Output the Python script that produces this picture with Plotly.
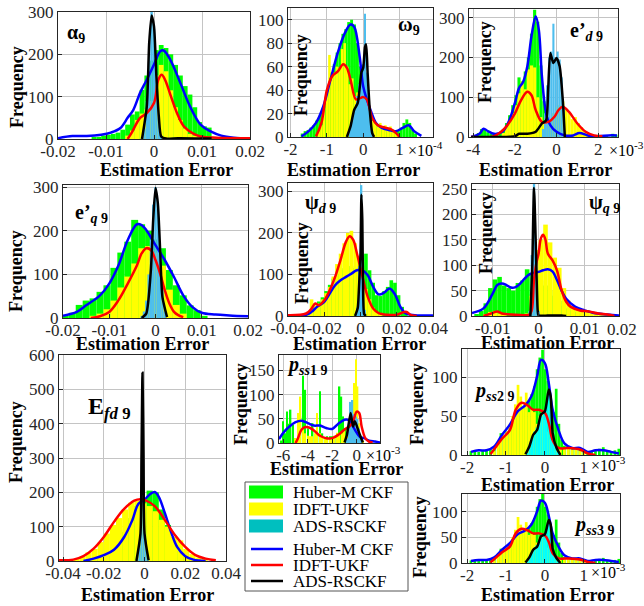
import plotly.graph_objects as go

W, H = 644, 606
def px(x): return x / W
def py(y): return 1 - y / H

# ================= DATA =================
# ---- alpha9 ----
A9_HUB_X = [-0.0125,-0.0115,-0.0105,-0.0095,-0.0085,-0.0075,-0.0065,-0.0055,-0.0045,-0.0035,-0.0025,-0.0015,-0.0005,0.0005,0.0015,0.0025,0.0035,0.0045,0.0055,0.0065,0.0075,0.0085,0.0095,0.0105,0.0115,0.0125]
A9_HUB_N = [3,5,8,10,12,15,22,34,58,65,116,150,185,210,222,215,200,175,150,125,105,75,40,30,27,5]
A9_IDFT_X = [-0.0055,-0.0045,-0.0035,-0.0025,-0.0015,-0.0005,0.0005,0.0015,0.0025,0.0035,0.0045,0.0055,0.0065,0.0075,0.0085,0.0095]
A9_IDFT_N = [8,20,45,60,70,90,150,175,160,115,75,45,25,12,8,4]
A9_ADS_X = [-0.0025,-0.002,-0.0015,-0.001,-0.0005,0.0,0.0005,0.001,0.0015]
A9_ADS_N = [5,25,90,230,300,260,150,50,8]
A9_BLUE_X = [-0.02,-0.017,-0.014,-0.011,-0.009,-0.007,-0.0055,-0.0043,-0.0029,-0.0015,0,0.0013,0.002,0.0034,0.0055,0.0075,0.0097,0.0118,0.014,0.0166,0.02]
A9_BLUE_Y = [2,7,7,10,15,26,50,69,109,140,176,207,209,187,132,77,34,18,8,3,1]
A9_RED_X = [-0.0055,-0.0047,-0.0029,-0.0015,0,0.0009,0.0016,0.0023,0.0034,0.0048,0.0062,0.008,0.0097,0.013,0.02]
A9_RED_Y = [0,14,50,61,85,140,152,140,105,61,30,14,6,3,2]
A9_BLK_X = [-0.0025,-0.0015,-0.001,-0.0005,0,0.0005,0.001,0.0015,0.0025,0.005,0.012]
A9_BLK_Y = [0,77,227,292,266,148,54,6,1,2,1]

# ---- omega9 (x1e-4) ----
W9_HUB_X = [-1.68,-1.6,-1.52,-1.44,-1.36,-1.28,-1.2,-1.12,-1.04,-0.96,-0.88,-0.8,-0.72,-0.64,-0.56,-0.48,-0.4,-0.32,-0.24,-0.16,-0.08,0.0,0.08,0.16,0.24,0.32,0.4,0.48,0.56,0.64,0.72,0.8,0.88,0.96,1.04,1.12,1.2,1.28,1.36,1.44]
W9_HUB_N = [3,5,6,8,10,14,18,24,32,42,55,62,72,80,88,92,98,100,96,80,60,45,35,25,18,12,10,8,6,5,6,4,5,6,8,12,15,12,6,3]
W9_IDFT_X = [-1.22,-1.15,-1.08,-1.0,-0.93,-0.86,-0.79,-0.72,-0.65,-0.58,-0.51,-0.44,-0.37,-0.3,-0.23,-0.16,-0.09,-0.02,0.05,0.12,0.19,0.26,0.33,0.4,0.47,0.54,0.61,0.68,0.75,0.82,0.89,0.96]
W9_IDFT_N = [5,10,25,40,70,55,55,60,58,75,80,60,45,50,35,38,32,30,35,28,20,14,12,10,12,8,10,7,9,5,4,2]
W9_ADS_X = [-0.35,-0.3,-0.25,-0.2,-0.15,-0.1,-0.05,0.0,0.05,0.1,0.15,0.2,0.25]
W9_ADS_N = [8,15,22,28,35,45,55,62,105,55,30,15,5]
W9_BLUE_X = [-1.7,-1.5,-1.3,-1.1,-0.9,-0.7,-0.5,-0.35,-0.25,-0.1,0,0.1,0.2,0.35,0.5,0.7,0.9,1.1,1.25,1.4,1.6]
W9_BLUE_Y = [0.5,5,12,26,49,72,89,96,94,69,43,32,23,12,8,6,5,8,10,5,1]
W9_RED_X = [-1.3,-1.15,-1.0,-0.85,-0.7,-0.55,-0.45,-0.35,-0.2,-0.1,0,0.1,0.25,0.4,0.6,0.8,1.0]
W9_RED_Y = [0.5,12,40,52,56,62,59,49,32,33,34,32,16,10,8,6,0]
W9_BLK_X = [-0.45,-0.35,-0.25,-0.15,-0.05,0,0.05,0.08,0.12,0.18,0.25,0.3]
W9_BLK_Y = [0,9,23,29,55,59,77,79,55,23,3,0]

# ---- e'd9 (x1e-3) ----
ED_HUB_X = [-3.75,-3.6,-3.45,-3.3,-3.15,-3.0,-2.85,-2.7,-2.55,-2.4,-2.25,-2.1,-1.95,-1.8,-1.65,-1.5,-1.35,-1.2,-1.05,-0.9,-0.75,-0.6,-0.45,-0.3,-0.15,0.0,0.15,0.3,0.45,0.6,0.75,0.9,1.05,1.2,1.35,1.5,1.8,2.1,2.4,2.7,2.85]
ED_HUB_N = [10,20,18,12,8,8,10,12,20,35,55,80,105,150,140,165,200,260,320,290,180,90,50,30,20,15,10,8,6,5,5,8,10,8,5,4,3,3,4,8,6]
ED_IDFT_X = [-2.55,-2.4,-2.25,-2.1,-1.95,-1.8,-1.65,-1.5,-1.35,-1.2,-1.05,-0.9,-0.75,-0.6,-0.45,-0.3,-0.15,0.0,0.15,0.3,0.45,0.6,0.75,0.9,1.05,1.2,1.35,1.5,1.65]
ED_IDFT_N = [10,25,40,60,80,110,140,120,170,180,175,100,50,40,35,45,60,75,80,90,70,60,45,50,35,25,15,10,5]
ED_ADS_X = [-0.65,-0.55,-0.45,-0.35,-0.25,-0.15,-0.05,0.05,0.15,0.25,0.35]
ED_ADS_N = [20,60,130,200,215,285,200,215,195,150,70]
ED_BLUE_X = [-4.1,-3.7,-3.5,-3.3,-3.0,-2.6,-2.3,-2.0,-1.8,-1.6,-1.4,-1.2,-1.0,-0.85,-0.7,-0.5,-0.3,0,0.4,0.8,1.1,1.5,2.0,2.5,2.9]
ED_BLUE_Y = [0,8,21,15,8,13,38,85,123,139,178,254,304,270,152,59,30,13,4,4,10,4,2,4,4]
ED_RED_X = [-4.1,-3.0,-2.5,-2.0,-1.7,-1.4,-1.2,-1.0,-0.7,-0.4,-0.1,0.1,0.3,0.6,1.0,1.4,1.8,2.2]
ED_RED_Y = [0,2,21,59,93,114,105,68,38,38,51,68,76,63,34,13,4,2]
ED_BLK_X = [-4.1,-2.0,-1.8,-1.4,-1.0,-0.7,-0.5,-0.4,-0.3,-0.15,0.0,0.15,0.3,0.4]
ED_BLK_Y = [0,2,8,8,13,34,42,120,211,186,199,178,93,0]

# ---- e'q9 ----
EQ_HUB_X = [-0.0195,-0.018,-0.0165,-0.015,-0.0135,-0.012,-0.0105,-0.009,-0.0075,-0.006,-0.0045,-0.003,-0.0015,0.0,0.0015,0.003,0.0045,0.006,0.0075,0.009,0.0105]
EQ_HUB_N = [5,12,30,40,45,60,75,115,150,175,225,215,200,180,160,110,75,52,29,18,5]
EQ_IDFT_X = [-0.0135,-0.012,-0.0105,-0.009,-0.0075,-0.006,-0.0045,-0.003,-0.0015,0.0,0.0015,0.003,0.0045,0.006]
EQ_IDFT_N = [5,10,20,40,70,95,125,160,165,150,120,65,30,10]
EQ_ADS_X = [-0.003,-0.0025,-0.002,-0.0015,-0.001,-0.0005,0.0,0.0005,0.001,0.0015,0.002]
EQ_ADS_N = [5,15,40,100,180,260,300,250,160,70,15]
EQ_BLUE_X = [-0.02,-0.017,-0.015,-0.012,-0.01,-0.008,-0.006,-0.004,-0.003,-0.002,0,0.002,0.004,0.006,0.008,0.01,0.013,0.016,0.02]
EQ_BLUE_Y = [5,14,29,52,79,121,179,215,213,202,167,133,94,52,25,12,8,6,4]
EQ_RED_X = [-0.014,-0.012,-0.01,-0.008,-0.006,-0.004,-0.003,-0.002,-0.001,0,0.001,0.002,0.003,0.004,0.005,0.006]
EQ_RED_Y = [0,4,14,41,79,121,148,160,156,133,102,64,33,14,6,2]
EQ_BLK_X = [-0.003,-0.002,-0.001,-0.0005,0,0.0005,0.001,0.0015,0.0025]
EQ_BLK_Y = [0,10,110,225,298,264,156,48,2]

# ---- psi_d9 ----
PD_HUB_X = [-0.029,-0.027,-0.025,-0.023,-0.021,-0.019,-0.017,-0.015,-0.013,-0.011,-0.009,-0.007,-0.005,-0.003,-0.001,0.001,0.003,0.005,0.007,0.009,0.011,0.013,0.015,0.017,0.019,0.021,0.023,0.025]
PD_HUB_N = [5,15,25,35,45,60,75,90,100,110,115,120,120,115,115,120,150,110,80,50,48,60,70,86,80,50,22,8]
PD_IDFT_X = [-0.031,-0.029,-0.027,-0.025,-0.023,-0.021,-0.019,-0.017,-0.015,-0.013,-0.011,-0.009,-0.007,-0.005,-0.003,-0.001,0.001,0.003,0.005,0.007,0.009,0.011]
PD_IDFT_N = [3,10,40,25,30,40,55,70,95,125,150,175,200,205,175,140,100,65,40,20,10,5]
PD_ADS_X = [-0.0015,-0.0005,0.0005,0.0015,0.0025]
PD_ADS_N = [20,120,315,100,15]
PD_BLUE_X = [-0.04,-0.03,-0.027,-0.024,-0.02,-0.017,-0.014,-0.011,-0.008,-0.005,-0.002,0.001,0.004,0.007,0.01,0.013,0.016,0.019,0.022,0.025,0.03,0.04]
PD_BLUE_Y = [0,3,10,22,34,54,74,86,94,102,110,110,98,70,52,56,66,52,22,6,2,1]
PD_RED_X = [-0.04,-0.03,-0.027,-0.025,-0.023,-0.02,-0.017,-0.014,-0.011,-0.008,-0.006,-0.004,-0.002,0,0.002,0.004,0.007,0.01,0.015,0.02,0.025,0.028,0.031]
PD_RED_Y = [2,6,18,30,26,38,62,94,135,179,192,183,151,115,78,46,18,7,3,3,10,2,0]
PD_BLK_X = [-0.003,-0.0015,-0.001,0,0.0005,0.001,0.0015,0.002,0.003]
PD_BLK_Y = [0,20,54,151,292,231,46,5,0]

# ---- psi_q9 ----
PQ_HUB_X = [-0.0135,-0.0125,-0.0115,-0.0105,-0.0095,-0.0085,-0.0075,-0.0065,-0.0055,-0.0045,-0.0035,-0.0025,-0.0015,-0.0005,0.0005,0.0015,0.0025,0.0035,0.0045,0.0055,0.0065,0.0075,0.0085,0.0095]
PQ_HUB_N = [3,10,25,55,72,77,60,55,50,65,70,92,85,80,70,60,50,40,30,20,15,10,8,5]
PQ_IDFT_X = [-0.0115,-0.0105,-0.0095,-0.0085,-0.0075,-0.0025,-0.0015,-0.0005,0.0005,0.0015,0.0025,0.0035,0.0045,0.0055,0.0065,0.0075,0.0085,0.0095,0.0105,0.0115,0.0125,0.0135,0.0145]
PQ_IDFT_N = [3,8,10,5,3,5,40,130,150,180,145,115,95,55,30,20,15,12,10,8,5,4,3]
PQ_ADS_X = [-0.002,-0.0015,-0.001,-0.0005,0.0]
PQ_ADS_N = [10,120,260,120,10]
PQ_BLUE_X = [-0.0145,-0.012,-0.01,-0.009,-0.008,-0.007,-0.006,-0.005,-0.004,-0.003,-0.002,0,0.001,0.002,0.003,0.004,0.005,0.006,0.008,0.01,0.012,0.015,0.0175]
PQ_BLUE_Y = [6,15,44,61,64,61,56,57,64,74,82,87,90,92,88,71,50,34,18,11,6,3,1]
PQ_RED_X = [-0.012,-0.01,-0.009,-0.008,-0.006,-0.002,-0.0015,-0.001,-0.0005,0,0.0005,0.001,0.0015,0.002,0.003,0.004,0.005,0.006,0.007,0.009,0.011,0.013,0.015,0.0165]
PQ_RED_Y = [0,6,9,5,3,3,11,71,104,123,153,160,150,123,110,90,51,28,18,11,9,5,3,0]
PQ_BLK_X = [-0.0018,-0.0014,-0.001,-0.0006,-0.0002,0.0,0.002,0.005,0.006]
PQ_BLK_Y = [0,90,252,137,11,1,1,1,0]

# ---- E_fd9 ----
EF_HUB_X = [-0.0245,-0.0215,-0.0185,-0.0155,-0.0125,-0.0095,-0.0065,-0.0035,-0.0005,0.0025,0.0055,0.0085,0.0115,0.0145,0.0175,0.0205,0.0235]
EF_HUB_N = [3,8,15,30,55,85,125,160,180,205,200,150,105,60,30,12,4]
EF_IDFT_X = [-0.0335,-0.0305,-0.0275,-0.0245,-0.0215,-0.0185,-0.0155,-0.0125,-0.0095,-0.0065,-0.0035,-0.0005,0.0025,0.0055,0.0085,0.0115,0.0145,0.0175,0.0205,0.0235,0.0265,0.0295]
EF_IDFT_N = [3,12,25,35,55,80,105,125,150,170,175,168,160,145,120,100,70,60,35,20,10,5]
EF_ADS_X = [-0.0035,-0.0025,-0.0015,-0.0005,0.0005,0.0015]
EF_ADS_N = [5,40,180,190,60,8]
EF_BLUE_X = [-0.03,-0.025,-0.02,-0.015,-0.01,-0.006,-0.003,0,0.003,0.005,0.007,0.01,0.013,0.016,0.02,0.024,0.03]
EF_BLUE_Y = [0,7,17,33,70,119,167,179,196,201,187,139,85,41,14,4,0]
EF_RED_X = [-0.042,-0.035,-0.03,-0.025,-0.02,-0.015,-0.01,-0.005,-0.002,0,0.005,0.01,0.015,0.02,0.025,0.03,0.035]
EF_RED_Y = [2,4,14,36,70,114,152,176,180,178,160,119,75,41,17,7,2]
EF_BLK_X = [-0.004,-0.002,-0.0015,-0.001,-0.0005,0,0.002]
EF_BLK_Y = [0,80,300,548,300,80,2]

# ---- p_ss1 9 (x1e-3) ----
P1_HUB_X = [-6.2,-6.0,-5.85,-5.7,-5.55,-5.4,-5.2,-5.0,-4.8,-4.6,-4.4,-4.2,-4.0,-3.8,-3.6,-3.4,-3.2,-3.0,-2.8,-2.6,-2.4,-2.2,-2.0,-1.8,-1.6,-1.4,-1.25,-1.1,-0.9,-0.7,-0.5]
P1_HUB_N = [5,45,20,65,40,69,38,10,15,55,139,110,30,10,41,10,15,107,20,10,14,14,14,10,20,117,96,55,31,25,10]
P1_IDFT_X = [-5.0,-4.8,-4.6,-4.4,-4.2,-4.0,-3.8,-3.6,-3.4,-3.25,-3.0,-2.8,-2.6,-2.4,-2.2,-2.0,-1.8,-1.6,-1.4,-1.2,-1.0,-0.8,-0.6,-0.45,-0.2,-0.07,0.07,0.2,0.35,0.5]
P1_IDFT_N = [10,62,96,30,20,15,14,14,20,62,20,14,10,8,8,10,15,21,21,20,25,34,34,40,124,173,117,41,15,5]
P1_ADS_X = [-0.8,-0.65,-0.5,-0.35,-0.2,-0.07,0.07,0.2,0.35]
P1_ADS_N = [10,40,85,89,60,55,50,30,10]
P1_BLUE_X = [-6.35,-6,-5.5,-5,-4.5,-4,-3.5,-3,-2.5,-2,-1.5,-1.0,-0.7,-0.4,0,0.3,0.6,1.0,1.5,1.9]
P1_BLUE_Y = [8,21,34,43,46,41,36,36,31,29,40,48,48,38,21,12,10,5,3,1]
P1_RED_X = [-5,-4.8,-4.5,-4.2,-3.8,-3.4,-3.0,-2.5,-2.0,-1.5,-1.0,-0.6,-0.3,0,0.2,0.4,0.7,1.0,1.3]
P1_RED_Y = [0,10,28,33,31,24,15,10,10,17,28,34,45,65,62,34,10,3,1]
P1_BLK_X = [-1.0,-0.8,-0.5,-0.3,-0.15,0.1,0.3,0.5]
P1_BLK_Y = [1,17,62,34,45,28,14,1]

# ---- p_ss2 9 and p_ss3 9 (x1e-3) ----
P2_HUB_X = [-1.9,-1.8,-1.7,-1.6,-1.5,-1.4,-1.3,-1.2,-1.13,-1.05,-0.98,-0.9,-0.83,-0.76,-0.69,-0.62,-0.55,-0.48,-0.41,-0.34,-0.27,-0.2,-0.13,-0.06,0.01,0.08,0.15,0.22,0.29,0.36,0.43,0.5,0.6,0.7,0.8,0.9,1.0,1.1,1.2,1.3,1.4,1.5,1.6,1.7,1.8,1.9]
P2_HUB_N = [5,6,4,5,6,8,10,15,28,22,30,38,42,48,52,55,60,62,70,78,88,110,125,135,110,95,70,55,85,40,20,12,8,9,10,8,6,5,4,6,8,10,6,5,6,8]
P2_IDFT_X = [-1.3,-1.2,-1.13,-1.05,-0.98,-0.9,-0.83,-0.76,-0.69,-0.62,-0.55,-0.48,-0.41,-0.34,-0.27,-0.2,-0.13,-0.06,0.01,0.08,0.15,0.22,0.3,0.4,0.5,0.6,0.7,0.8,0.9,1.0]
P2_IDFT_N = [5,15,20,25,30,40,50,65,90,75,60,80,55,60,55,40,50,55,45,30,20,12,10,8,9,8,7,8,5,3]
P2_ADS_X = [-0.45,-0.39,-0.33,-0.27,-0.21,-0.15,-0.09,-0.03,0.03,0.09,0.15,0.21,0.27,0.33]
P2_ADS_N = [3,10,22,30,35,45,50,55,65,80,60,30,12,4]
P2_BLUE_X = [-1.9,-1.7,-1.5,-1.3,-1.1,-0.9,-0.7,-0.5,-0.35,-0.2,-0.1,0.0,0.1,0.2,0.35,0.5,0.7,0.9,1.1,1.3,1.5,1.7,1.9]
P2_BLUE_Y = [4,6,6,11,26,39,56,64,75,101,122,118,92,58,32,15,9,9,4,6,6,4,2]
P2_RED_X = [-1.4,-1.25,-1.1,-0.9,-0.75,-0.6,-0.45,-0.3,-0.15,0,0.1,0.2,0.35,0.6,0.9,1.1,1.3]
P2_RED_Y = [1,11,21,32,58,67,64,58,58,54,41,19,9,9,7,2,0]
P2_BLK_X = [-0.5,-0.4,-0.3,-0.2,-0.1,0.0,0.1,0.15,0.2,0.3,0.4]
P2_BLK_Y = [1,11,26,32,52,56,84,75,28,9,0]

P3_HUB_X, P3_HUB_N = P2_HUB_X, P2_HUB_N
P3_IDFT_X, P3_IDFT_N = P2_IDFT_X, P2_IDFT_N
P3_ADS_X, P3_ADS_N = P2_ADS_X, P2_ADS_N
P3_BLUE_X, P3_BLUE_Y = P2_BLUE_X, P2_BLUE_Y
P3_RED_X, P3_RED_Y = P2_RED_X, P2_RED_Y
P3_BLK_X, P3_BLK_Y = P2_BLK_X, P2_BLK_Y

LEGEND_NAMES = ["Huber-M CKF", "IDFT-UKF", "ADS-RSCKF"]

# ================= STYLE / LAYOUT =================
GREEN, YELLOW, SKY, CYAN = "#00ff00", "#ffff00", "#4dbeee", "#00ffff"
SERIF = "Liberation Serif, Times New Roman, serif"
TXT = "#262626"

panels = [
    dict(box=(58,250,12,139), xr=[-0.02,0.02], yr=[0,300],
         xt=[-0.02,-0.01,0,0.01,0.02], xtt=["-0.02","-0.01","0","0.01","0.02"], yt=[0,100,200,300],
         d=(A9_HUB_X,A9_HUB_N,A9_IDFT_X,A9_IDFT_N,A9_ADS_X,A9_ADS_N,A9_BLUE_X,A9_BLUE_Y,A9_RED_X,A9_RED_Y,A9_BLK_X,A9_BLK_Y),
         w=(0.001,0.001,0.0005), ac=SKY),
    dict(box=(288,433,8,137), xr=[-2.07,1.92], yr=[0,110],
         xt=[-2,-1,0,1], xtt=["-2","-1","0","1"], yt=[0,20,40,60,80,100],
         d=(W9_HUB_X,W9_HUB_N,W9_IDFT_X,W9_IDFT_N,W9_ADS_X,W9_ADS_N,W9_BLUE_X,W9_BLUE_Y,W9_RED_X,W9_RED_Y,W9_BLK_X,W9_BLK_Y),
         w=(0.08,0.07,0.05), ac=SKY),
    dict(box=(469,618,9,137), xr=[-4.2,2.95], yr=[0,322],
         xt=[-4,-2,0,2], xtt=["-4","-2","0","2"], yt=[0,100,200,300],
         d=(ED_HUB_X,ED_HUB_N,ED_IDFT_X,ED_IDFT_N,ED_ADS_X,ED_ADS_N,ED_BLUE_X,ED_BLUE_Y,ED_RED_X,ED_RED_Y,ED_BLK_X,ED_BLK_Y),
         w=(0.15,0.15,0.1), ac=SKY),
    dict(box=(63,248,185,318), xr=[-0.02,0.02], yr=[0,305],
         xt=[-0.02,-0.01,0,0.01,0.02], xtt=["-0.02","-0.01","0","0.01","0.02"], yt=[0,100,200,300],
         d=(EQ_HUB_X,EQ_HUB_N,EQ_IDFT_X,EQ_IDFT_N,EQ_ADS_X,EQ_ADS_N,EQ_BLUE_X,EQ_BLUE_Y,EQ_RED_X,EQ_RED_Y,EQ_BLK_X,EQ_BLK_Y),
         w=(0.0015,0.0015,0.0005), ac=SKY),
    dict(box=(288,433,183,316), xr=[-0.04,0.04], yr=[0,320],
         xt=[-0.04,-0.02,0,0.02,0.04], xtt=["-0.04","-0.02","0","0.02","0.04"], yt=[0,100,200,300],
         d=(PD_HUB_X,PD_HUB_N,PD_IDFT_X,PD_IDFT_N,PD_ADS_X,PD_ADS_N,PD_BLUE_X,PD_BLUE_Y,PD_RED_X,PD_RED_Y,PD_BLK_X,PD_BLK_Y),
         w=(0.002,0.002,0.001), ac=SKY),
    dict(box=(472,619,184,316), xr=[-0.0145,0.0175], yr=[0,260],
         xt=[-0.01,0,0.01], xtt=["-0.01","0","0.01"], yt=[0,50,100,150,200,250],
         d=(PQ_HUB_X,PQ_HUB_N,PQ_IDFT_X,PQ_IDFT_N,PQ_ADS_X,PQ_ADS_N,PQ_BLUE_X,PQ_BLUE_Y,PQ_RED_X,PQ_RED_Y,PQ_BLK_X,PQ_BLK_Y),
         w=(0.001,0.001,0.0005), ac=SKY),
    dict(box=(59,226,355,561), xr=[-0.042,0.04], yr=[0,600],
         xt=[-0.04,-0.02,0,0.02,0.04], xtt=["-0.04","-0.02","0","0.02","0.04"], yt=[0,100,200,300,400,500,600],
         d=(EF_HUB_X,EF_HUB_N,EF_IDFT_X,EF_IDFT_N,EF_ADS_X,EF_ADS_N,EF_BLUE_X,EF_BLUE_Y,EF_RED_X,EF_RED_Y,EF_BLK_X,EF_BLK_Y),
         w=(0.003,0.003,0.001), ac=SKY),
    dict(box=(279,380,355,443), xr=[-6.35,1.9], yr=[0,182],
         xt=[-6,-4,-2,0], xtt=["-6","-4","-2","0"], yt=[0,50,100,150],
         d=(P1_HUB_X,P1_HUB_N,P1_IDFT_X,P1_IDFT_N,P1_ADS_X,P1_ADS_N,P1_BLUE_X,P1_BLUE_Y,P1_RED_X,P1_RED_Y,P1_BLK_X,P1_BLK_Y),
         w=(0.12,0.12,0.12), ac=SKY),
    dict(box=(462,620,349,455), xr=[-2.13,1.93], yr=[0,136],
         xt=[-2,-1,0,1], xtt=["-2","-1","0","1"], yt=[0,50,100],
         d=(P2_HUB_X,P2_HUB_N,P2_IDFT_X,P2_IDFT_N,P2_ADS_X,P2_ADS_N,P2_BLUE_X,P2_BLUE_Y,P2_RED_X,P2_RED_Y,P2_BLK_X,P2_BLK_Y),
         w=(0.07,0.07,0.06), ac=CYAN),
    dict(box=(462,620,494,563), xr=[-2.13,1.93], yr=[0,135],
         xt=[-2,-1,0,1], xtt=["-2","-1","0","1"], yt=[0,50,100],
         d=(P3_HUB_X,P3_HUB_N,P3_IDFT_X,P3_IDFT_N,P3_ADS_X,P3_ADS_N,P3_BLUE_X,P3_BLUE_Y,P3_RED_X,P3_RED_Y,P3_BLK_X,P3_BLK_Y),
         w=(0.07,0.07,0.06), ac=CYAN),
]

fig = go.Figure()
layout = dict(template="none", width=W, height=H, margin=dict(l=0, r=0, t=0, b=0, pad=0, autoexpand=False),
              paper_bgcolor="white", plot_bgcolor="white", showlegend=False,
              barmode="overlay", font=dict(family=SERIF, color=TXT))

for i, p in enumerate(panels, start=1):
    xa = "x" if i == 1 else f"x{i}"
    ya = "y" if i == 1 else f"y{i}"
    hx, hn, ix, inn, ax, an, bx, by, rx, ry, kx, ky = p["d"]
    wh, wi, wa = p["w"]
    for X, N, wd, col in ((hx, hn, wh, GREEN), (ix, inn, wi, YELLOW), (ax, an, wa, p["ac"])):
        fig.add_trace(go.Bar(x=X, y=N, width=wd, marker=dict(color=col, line=dict(width=0)),
                             xaxis=xa, yaxis=ya, hoverinfo="skip"))
    for X, Y, col, sm in ((bx, by, "#0000ff", 1.0), (rx, ry, "#ff0000", 1.0), (kx, ky, "#000000", 0.6)):
        fig.add_trace(go.Scatter(x=X, y=Y, mode="lines",
                                 line=dict(color=col, width=2.5, shape="spline", smoothing=sm),
                                 xaxis=xa, yaxis=ya, hoverinfo="skip"))
    x0, x1, yt_, yb = p["box"]
    common = dict(showgrid=True, gridcolor="#c4c4c4", gridwidth=1, zeroline=False,
                  showline=True, mirror=True, linecolor=TXT, linewidth=1,
                  ticks="inside", ticklen=4, tickcolor=TXT, tickangle=0, automargin=False,
                  tickfont=dict(family=SERIF, size=17, color=TXT))
    layout["xaxis" if i == 1 else f"xaxis{i}"] = dict(
        domain=[px(x0), px(x1)], range=p["xr"], anchor=ya, ticklabelstandoff=-3,
        tickmode="array", tickvals=p["xt"], ticktext=p["xtt"], **common)
    layout["yaxis" if i == 1 else f"yaxis{i}"] = dict(
        domain=[py(yb), py(yt_)], range=p["yr"], anchor=xa,
        tickmode="array", tickvals=p["yt"], ticktext=[str(v) for v in p["yt"]], **common)

ann = []
def A(x, y, text, size, anchor="center", angle=0):
    ann.append(dict(x=px(x), y=py(y), xref="paper", yref="paper", text=text, showarrow=False,
                    xanchor=anchor, yanchor="middle", textangle=angle,
                    font=dict(family=SERIF, size=size, color="black")))

for (fx, fy) in [(17,87),(301,75),(485,62),(16,271),(302,263),(486,233),(16,442),(241,404),(417,404),(420,537)]:
    A(fx, fy, "<b>Frequency</b>", 18, angle=-90)
for (ex, ey) in [(166,170),(353,170),(545,170),(142,344),(359,344),(547,343),(147,595),(336,469),(547,485),(547,595)]:
    A(ex, ey, "<b>Estimation Error</b>", 18)

A(406, 149, "×10<sup>-4</sup>", 16, anchor="left")
A(607, 149, "×10<sup>-3</sup>", 16, anchor="left")
A(364, 454, "×10<sup>-3</sup>", 16, anchor="left")
A(589, 464, "×10<sup>-3</sup>", 16, anchor="left")
A(589, 571, "×10<sup>-3</sup>", 16, anchor="left")
ann.append(dict(x=px(622), y=py(329), xref="paper", yref="paper", text="0.02", showarrow=False,
                xanchor="center", yanchor="middle", font=dict(family=SERIF, size=17, color=TXT)))

A(65, 33, "<b>α<sub>9</sub></b>", 20, anchor="left")
A(396, 25, "<b>ω<sub>9</sub></b>", 20, anchor="left")
A(568, 32, "<b>e’<sub><i>d</i> 9</sub></b>", 20, anchor="left")
A(73, 213, "<b>e’<sub><i>q</i> 9</sub></b>", 20, anchor="left")
A(303, 203, "<b>ψ<sub><i>d</i> 9</sub></b>", 20, anchor="left")
A(587, 203, "<b>ψ<sub><i>q</i> 9</sub></b>", 20, anchor="left")
A(86, 408, "<b>E<sub><i>fd</i> 9</sub></b>", 24, anchor="left")
A(285, 365, "<b><i>p</i><sub><i>ss</i>1 9</sub></b>", 20, anchor="left")
A(472, 392, "<b><i>p</i><sub><i>ss</i>2 9</sub></b>", 20, anchor="left")
A(572, 525, "<b><i>p</i><sub><i>ss</i>3 9</sub></b>", 20, anchor="left")

shapes = [dict(type="rect", xref="paper", yref="paper", x0=px(245), x1=px(408), y0=py(591), y1=py(482),
               line=dict(color="#555555", width=1), fillcolor="white", layer="above")]
patch_cols = [GREEN, YELLOW, "#00bfbf"]
line_cols = ["#0000ff", "#ff0000", "#000000"]
for k, (yc, col) in enumerate(zip([492, 509, 526], patch_cols)):
    shapes.append(dict(type="rect", xref="paper", yref="paper", x0=px(249), x1=px(283),
                       y0=py(yc + 6.5), y1=py(yc - 6.5), line=dict(width=0), fillcolor=col, layer="above"))
    ann.append(dict(x=px(291), y=py(yc), xref="paper", yref="paper", text=LEGEND_NAMES[k], showarrow=False,
                    xanchor="left", yanchor="middle", font=dict(family=SERIF, size=17, color="black")))
for k, (yc, col) in enumerate(zip([549, 565, 581], line_cols)):
    shapes.append(dict(type="line", xref="paper", yref="paper", x0=px(251), x1=px(283),
                       y0=py(yc), y1=py(yc), line=dict(color=col, width=2.5), layer="above"))
    ann.append(dict(x=px(291), y=py(yc), xref="paper", yref="paper", text=LEGEND_NAMES[k], showarrow=False,
                    xanchor="left", yanchor="middle", font=dict(family=SERIF, size=17, color="black")))

layout["annotations"] = ann
layout["shapes"] = shapes
fig.update_layout(**layout)
fig.write_html("out.html")
